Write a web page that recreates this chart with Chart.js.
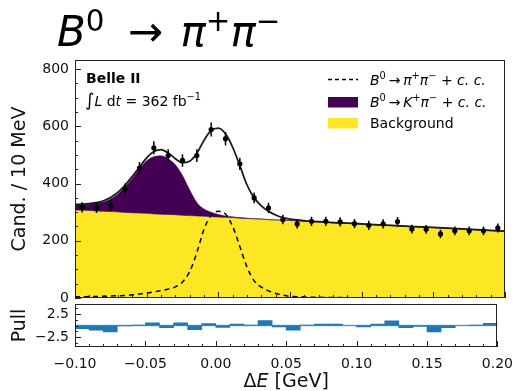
<!DOCTYPE html>
<html>
<head>
<meta charset="utf-8">
<script src="https://cdn.jsdelivr.net/npm/chart.js@4.4.1/dist/chart.umd.min.js"></script>
<style>
  html, body { margin: 0; padding: 0; background: #fff; }
  #wrap { position: relative; width: 522px; height: 391px; overflow: hidden; }
  canvas { position: absolute; left: 0; top: 0; }
  #title { position: absolute; left: 57px; top: 11px; font-family: 'DejaVu Sans', sans-serif; font-size: 42px; line-height: 1; color: #000; white-space: nowrap; }
  #title .s { position: relative; top: -0.5em; font-size: 0.7em; }
  #title .arrow { margin-left: 10px; margin-right: 4px; }
</style>
</head>
<body>
<div id="wrap">
  <canvas id="mainChart" width="522" height="391"></canvas>
  <canvas id="pullChart" width="522" height="391"></canvas>
  <div id="title"><i>B</i><span class="s">0</span> <span class="arrow">→</span> <i>π</i><span class="s">+</span><i>π</i><span class="s">−</span></div>
</div>
<script>
const FONT = "'DejaVu Sans', sans-serif";

// --- binned data (10 MeV bins) ---
const binCenters = [-0.095, -0.085, -0.075, -0.065, -0.055, -0.045, -0.035, -0.025, -0.015, -0.005,
                    0.005, 0.015, 0.025, 0.035, 0.045, 0.055, 0.065, 0.075, 0.085, 0.095,
                    0.105, 0.115, 0.125, 0.135, 0.145, 0.155, 0.165, 0.175, 0.185, 0.195];
const candidates = [317, 315, 323, 381, 454, 525, 498, 481, 498, 589,
                    557, 469, 350, 315, 274, 259, 268, 268, 266, 260,
                    254, 259, 267, 241, 240, 224, 235, 235, 235, 245];
const candErrors = [17.8, 17.7, 18.0, 19.5, 21.3, 22.9, 22.3, 21.9, 22.3, 24.3,
                    23.6, 21.7, 18.7, 17.7, 16.6, 16.1, 16.4, 16.4, 16.3, 16.1,
                    15.9, 16.1, 16.3, 15.5, 15.5, 15.0, 15.3, 15.3, 15.3, 15.7];
const pulls = [-0.7, -1.0, -1.4, -0.1, 0.1, 0.6, -0.5, 0.6, -0.9, 0.4,
               -0.4, 0.3, 0.1, 1.1, -0.3, -1.0, 0.1, 0.3, 0.3, 0.0,
               -0.3, 0.3, 1.0, -0.5, -0.2, -1.4, -0.5, 0.0, 0.1, 0.5];

// --- fit projections ---
const curveX = [-0.1, -0.095, -0.09, -0.085, -0.08, -0.075, -0.07, -0.065, -0.06, -0.055,
                -0.05, -0.045, -0.04, -0.035, -0.03, -0.025, -0.02, -0.015, -0.01, -0.005,
                0, 0.005, 0.01, 0.015, 0.02, 0.025, 0.03, 0.035, 0.04, 0.045,
                0.05, 0.1, 0.15, 0.2];
const bkgCurve = [308, 307, 306, 304, 303, 302, 301, 299, 298, 297,
                  296, 294, 293, 292, 291, 289, 288, 287, 286, 284,
                  283, 282, 281, 279, 278, 277, 276, 274, 273, 272,
                  271, 258, 246, 233];
const kpiStack = [326, 327, 328, 331, 336, 347, 364, 390, 418, 452,
                  480, 494, 497, 487, 466, 428, 378, 334, 311, 300,
                  292, 287, 284, 281, 279, 277, 276, 274, 273, 272,
                  271, 258, 246, 233];
const pipiCurve = [4, 4, 5, 5, 6, 7, 8, 9, 11, 14,
                   17, 21, 26, 31, 39, 56, 92, 159, 240, 290,
                   303, 294, 250, 180, 108, 60, 38, 25, 16, 10,
                   6, 1, 0, 0];
const totalCurve = [327, 328, 330, 333, 340, 352, 370, 395, 425, 458,
                    490, 512, 519, 507, 487, 473, 478, 506, 551, 586,
                    594, 574, 527, 463, 395, 350, 322, 303, 290, 281,
                    276, 259, 247, 234];

// --- ticks ---
const xTicks = [-0.1, -0.05, 0, 0.05, 0.1, 0.15, 0.2];
const yTicks = [0, 200, 400, 600, 800];
const pullTicks = [-2.5, 2.5];

const xMinor = [];
for (let i = 0; i <= 30; i++) xMinor.push(-0.1 + i * 0.01);
const yMinor = [];
for (let v = 0; v <= 800; v += 50) yMinor.push(v);
const pullMinor = [-3.75, -1.25, 0, 1.25, 3.75];

const pts = (xs, ys) => xs.map((x, i) => ({ x, y: ys[i] }));
const minusFmt = (v, d) => (v < -1e-9 ? '−' : '') + Math.abs(v).toFixed(d);

Chart.defaults.font.family = FONT;
Chart.defaults.color = '#111';

function drawRich(ctx, parts, x, y, size) {
    ctx.textBaseline = 'alphabetic';
    ctx.textAlign = 'left';
    parts.forEach(p => {
        const s = p.size || (p.sup ? size * 0.7 : size);
        ctx.font = `${p.it ? 'italic ' : ''}${p.bold ? 'bold ' : ''}${s}px ${FONT}`;
        ctx.fillText(p.t, x, p.sup ? y - size * 0.4 : y);
        x += ctx.measureText(p.t).width;
    });
    return x;
}

function richWidth(ctx, parts, size) {
    let w = 0;
    parts.forEach(p => {
        const s = p.size || (p.sup ? size * 0.7 : size);
        ctx.font = `${p.it ? 'italic ' : ''}${p.bold ? 'bold ' : ''}${s}px ${FONT}`;
        w += ctx.measureText(p.t).width;
    });
    return w;
}

// inward ticks + frame, matplotlib style
const axisFrame = {
    id: 'axisFrame',
    afterDraw(chart, args, o) {
        const { ctx, chartArea: a, scales: { x, y } } = chart;
        ctx.save();
        ctx.strokeStyle = '#222';
        ctx.lineWidth = 1;
        ctx.beginPath();
        const tx = (vals, len) => vals.forEach(v => {
            const p = Math.round(x.getPixelForValue(v)) + 0.5;
            ctx.moveTo(p, a.bottom); ctx.lineTo(p, a.bottom - len);
        });
        const ty = (vals, len) => vals.forEach(v => {
            const p = Math.round(y.getPixelForValue(v)) + 0.5;
            ctx.moveTo(a.left, p); ctx.lineTo(a.left + len, p);
        });
        tx(xMinor, 3); tx(xTicks, 6);
        ty(o.yMinor, 3); ty(o.yMajor, 6);
        ctx.stroke();
        ctx.strokeRect(Math.round(a.left) + 0.5, Math.round(a.top) + 0.5,
                       Math.round(a.right - a.left) - 1, Math.round(a.bottom - a.top) - 1);
        ctx.restore();
    }
};

// error bars on the data points
const errorBars = {
    id: 'errorBars',
    afterDatasetsDraw(chart) {
        const { ctx, scales: { x, y } } = chart;
        ctx.save();
        ctx.strokeStyle = '#000';
        ctx.lineWidth = 1.5;
        ctx.beginPath();
        binCenters.forEach((c, i) => {
            const px = x.getPixelForValue(c);
            ctx.moveTo(px, y.getPixelForValue(candidates[i] - candErrors[i]));
            ctx.lineTo(px, y.getPixelForValue(candidates[i] + candErrors[i]));
        });
        ctx.stroke();
        ctx.restore();
    }
};

// experiment label + legend
const annotations = {
    id: 'annotations',
    afterDraw(chart) {
        const { ctx } = chart;
        ctx.save();
        ctx.fillStyle = '#000';
        drawRich(ctx, [{ t: 'Belle II', bold: true }], 86, 83, 14);
        drawRich(ctx, [{ t: '∫', size: 18 }, { t: 'L', it: true }, { t: ' d' }, { t: 't', it: true },
                       { t: ' = 362 fb' }, { t: '−1', sup: true }], 85, 106, 14);

        const hx = 328, hw = 30, textX = 370;
        // row 1: dashed line
        ctx.strokeStyle = '#000';
        ctx.lineWidth = 1.5;
        ctx.setLineDash([4, 3]);
        ctx.beginPath(); ctx.moveTo(hx, 79.5); ctx.lineTo(hx + hw, 79.5); ctx.stroke();
        ctx.setLineDash([]);
        drawRich(ctx, [{ t: 'B', it: true }, { t: '0', sup: true }, { t: '\u2009→\u2009' }, { t: 'π', it: true },
                       { t: '+', sup: true }, { t: 'π', it: true }, { t: '−', sup: true },
                       { t: ' + ' }, { t: 'c. c.', it: true }], textX, 85, 14);
        // row 2: K pi
        ctx.fillStyle = '#440154';
        ctx.fillRect(hx, 97, hw, 10.5);
        ctx.fillStyle = '#000';
        drawRich(ctx, [{ t: 'B', it: true }, { t: '0', sup: true }, { t: '\u2009→\u2009' }, { t: 'K', it: true },
                       { t: '+', sup: true }, { t: 'π', it: true }, { t: '−', sup: true },
                       { t: ' + ' }, { t: 'c. c.', it: true }], textX, 107, 14);
        // row 3: background
        ctx.fillStyle = '#fde725';
        ctx.fillRect(hx, 118, hw, 10.5);
        ctx.fillStyle = '#000';
        drawRich(ctx, [{ t: 'Background' }], textX, 128, 14);
        ctx.restore();
    }
};

const xAxisTitle = {
    id: 'xAxisTitle',
    afterDraw(chart) {
        const { ctx, chartArea: a } = chart;
        const parts = [{ t: 'Δ' }, { t: 'E', it: true }, { t: ' [GeV]' }];
        const w = richWidth(ctx, parts, 19);
        ctx.save();
        ctx.fillStyle = '#111';
        drawRich(ctx, parts, (a.left + a.right) / 2 - w / 2, 387, 19);
        ctx.restore();
    }
};

new Chart(document.getElementById('mainChart'), {
    type: 'line',
    data: {
        datasets: [
            { label: 'Data', data: pts(binCenters, candidates), showLine: false, pointRadius: 2.6,
              pointBackgroundColor: '#000', pointBorderWidth: 0 },
            { label: 'Total', data: pts(curveX, totalCurve), borderColor: '#1a1a1a', borderWidth: 1.8,
              pointRadius: 0, cubicInterpolationMode: 'monotone', fill: false },
            { label: 'B0 -> pi+ pi-', data: pts(curveX, pipiCurve), borderColor: '#000', borderWidth: 1.5,
              borderDash: [5, 4], pointRadius: 0, cubicInterpolationMode: 'monotone', fill: false },
            { label: 'B0 -> K+ pi-', data: pts(curveX, kpiStack), borderColor: '#440154', borderWidth: 0.5,
              backgroundColor: '#440154', pointRadius: 0, cubicInterpolationMode: 'monotone', fill: '+1' },
            { label: 'Background', data: pts(curveX, bkgCurve), borderColor: 'rgba(70,60,70,0.7)', borderWidth: 1,
              backgroundColor: '#fde725', pointRadius: 0, cubicInterpolationMode: 'monotone', fill: 'origin' }
        ]
    },
    options: {
        responsive: false,
        animation: false,
        devicePixelRatio: 1,
        layout: { padding: { left: 0, right: 17, top: 60, bottom: 93 } },
        plugins: {
            legend: { display: false },
            tooltip: { enabled: false },
            axisFrame: { yMajor: yTicks, yMinor: yMinor }
        },
        scales: {
            x: { type: 'linear', min: -0.1, max: 0.2, display: false },
            y: {
                min: 0, max: 832,
                afterBuildTicks: s => { s.ticks = yTicks.map(v => ({ value: v })); },
                afterFit: s => { s.width = 75; },
                ticks: { font: { size: 14 }, color: '#111', padding: 6 },
                grid: { display: false, drawTicks: false },
                border: { display: false },
                title: { display: true, text: 'Cand. / 10 MeV', font: { size: 19 }, color: '#111', padding: { top: 9 } }
            }
        }
    },
    plugins: [errorBars, axisFrame, annotations]
});

new Chart(document.getElementById('pullChart'), {
    type: 'bar',
    data: {
        datasets: [
            { type: 'bar', label: 'Pull', data: pts(binCenters, pulls), backgroundColor: '#1f77b4',
              barPercentage: 1, categoryPercentage: 1, order: 1 },
            { type: 'line', label: 'zero', data: [{ x: -0.1, y: 0 }, { x: 0.2, y: 0 }], borderColor: '#7fb1d8',
              borderWidth: 1.5, pointRadius: 0, order: 2 }
        ]
    },
    options: {
        responsive: false,
        animation: false,
        devicePixelRatio: 1,
        layout: { padding: { left: 0, right: 17, top: 304, bottom: 0 } },
        plugins: {
            legend: { display: false },
            tooltip: { enabled: false },
            axisFrame: { yMajor: pullTicks, yMinor: pullMinor }
        },
        scales: {
            x: {
                type: 'linear', min: -0.1, max: 0.2, offset: false,
                afterBuildTicks: s => { s.ticks = xTicks.map(v => ({ value: v })); },
                afterFit: s => { s.height = 44; },
                ticks: { font: { size: 14 }, color: '#111', padding: 9, maxRotation: 0, autoSkip: false,
                         callback: v => minusFmt(v, 2) },
                grid: { display: false, drawTicks: false, offset: false },
                border: { display: false }
            },
            y: {
                min: -4.7, max: 4.7,
                afterBuildTicks: s => { s.ticks = pullTicks.map(v => ({ value: v })); },
                afterFit: s => { s.width = 75; },
                ticks: { font: { size: 14 }, color: '#111', padding: 6, callback: v => minusFmt(v, 1) },
                grid: { display: false, drawTicks: false },
                border: { display: false },
                title: { display: true, text: 'Pull', font: { size: 19 }, color: '#111', padding: { top: 9 } }
            }
        }
    },
    plugins: [axisFrame, xAxisTitle]
});
</script>
</body>
</html>
